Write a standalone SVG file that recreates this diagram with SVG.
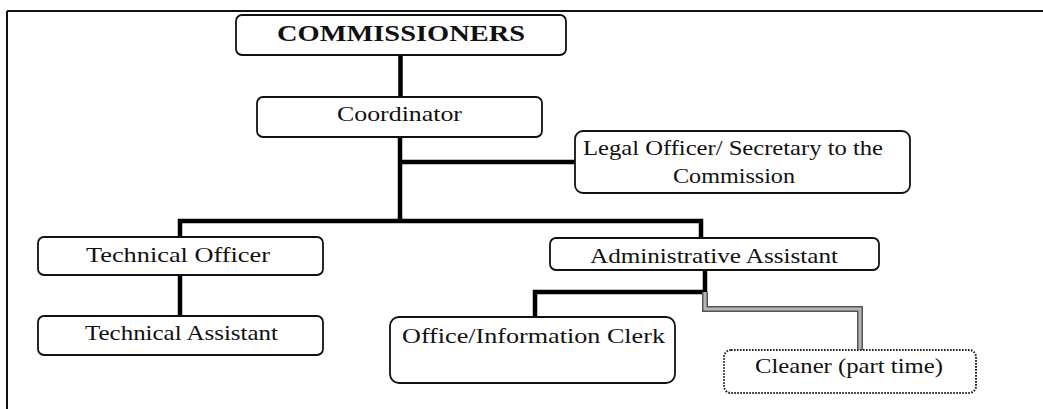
<svg xmlns="http://www.w3.org/2000/svg" width="1043" height="409" viewBox="0 0 1043 409">
<style>
.box{fill:#fff;stroke:#111;stroke-width:1.8}
.dot{fill:#fff;stroke:#222;stroke-width:2;stroke-dasharray:1.6 1.4}
.t{font-family:"Liberation Serif","Times New Roman",serif;font-size:22px;fill:#111;text-anchor:middle}
.b{font-weight:bold;font-size:24px}
.c{fill:none;stroke:#000;stroke-width:4.5}
.g1{fill:none;stroke:#555;stroke-width:6}
.g2{fill:none;stroke:#b5b5b5;stroke-width:3}
</style>
<g id="frame">
<line x1="7" y1="11" x2="1043" y2="11" stroke="#111" stroke-width="2"/>
<line x1="7" y1="11" x2="7" y2="409" stroke="#111" stroke-width="2"/>
</g>
<g id="connectors">
<path class="c" d="M400.5 55V97"/>
<path class="c" d="M400 137V221M400 162H575"/>
<path class="c" d="M180 237V221H701V238"/>
<path class="c" d="M180 275V316"/>
<path class="c" d="M705 270V292H535V317"/>
<path class="g1" d="M705 292V309H860V350"/>
<path class="g2" d="M705 292V309H860V350"/>
</g>
<g id="commissioners">
<rect class="box" x="236" y="15" width="330" height="40" rx="6"/>
<text class="t b" x="401" y="41" textLength="248" lengthAdjust="spacingAndGlyphs">COMMISSIONERS</text>
</g>
<g id="coordinator">
<rect class="box" x="257" y="97" width="285" height="40" rx="6"/>
<text class="t" x="399.5" y="121" textLength="125" lengthAdjust="spacingAndGlyphs">Coordinator</text>
</g>
<g id="legal">
<rect class="box" x="575" y="131" width="335" height="62" rx="8"/>
<text class="t" x="733" y="155" textLength="300" lengthAdjust="spacingAndGlyphs">Legal Officer/ Secretary to the</text>
<text class="t" x="734" y="183" textLength="122" lengthAdjust="spacingAndGlyphs">Commission</text>
</g>
<g id="technical-officer">
<rect class="box" x="38" y="237" width="285" height="38" rx="6"/>
<text class="t" x="178" y="262" textLength="184" lengthAdjust="spacingAndGlyphs">Technical Officer</text>
</g>
<g id="technical-assistant">
<rect class="box" x="38" y="316" width="285" height="39" rx="6"/>
<text class="t" x="181.5" y="340" textLength="193" lengthAdjust="spacingAndGlyphs">Technical Assistant</text>
</g>
<g id="administrative-assistant">
<rect class="box" x="550" y="238" width="329" height="32" rx="6"/>
<text class="t" x="714" y="263" textLength="248" lengthAdjust="spacingAndGlyphs">Administrative Assistant</text>
</g>
<g id="office-clerk">
<rect class="box" x="390" y="317" width="285" height="66" rx="9"/>
<text class="t" x="533.5" y="343" textLength="263" lengthAdjust="spacingAndGlyphs">Office/Information Clerk</text>
</g>
<g id="cleaner">
<rect class="dot" x="724" y="350" width="252" height="43" rx="7"/>
<text class="t" x="849" y="373" textLength="188" lengthAdjust="spacingAndGlyphs">Cleaner (part time)</text>
</g>
</svg>
